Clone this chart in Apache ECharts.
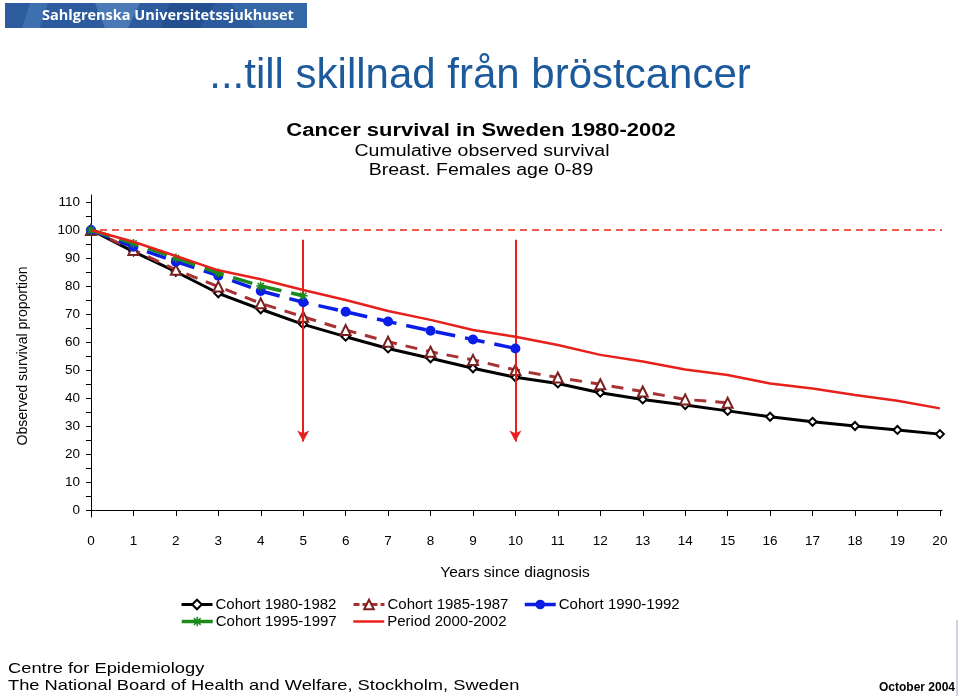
<!DOCTYPE html>
<html>
<head>
<meta charset="utf-8">
<script src="https://cdn.jsdelivr.net/npm/echarts@6/dist/echarts.min.js"></script>
<style>html,body{margin:0;padding:0;background:#fff;}#c{width:960px;height:696px;}</style>
</head>
<body>
<div id="c"></div>
<script>
const years = [0,1,2,3,4,5,6,7,8,9,10,11,12,13,14,15,16,17,18,19,20];
const yTickLabels = [0,10,20,30,40,50,60,70,80,90,100,110];
const cohort8082 = [100,92.3,85.1,77.4,71.7,66.3,61.9,57.7,54.2,50.6,47.4,45.2,41.9,39.5,37.5,35.4,33.3,31.5,30.0,28.6,27.1];
const cohort8587 = [100,92.9,85.8,79.8,73.8,69.0,64.3,60.1,56.5,53.6,50.0,47.3,44.9,42.3,39.5,38.3];
const cohort9092 = [100,94.0,88.7,83.7,78.2,74.2,70.8,67.3,64.0,60.9,57.7];
const cohort9597 = [100,95.2,90.0,84.6,80.0,76.5];
const period0002 = [100,95.8,90.7,85.6,82.4,78.6,75.0,71.1,67.9,64.3,61.9,58.9,55.4,53.0,50.2,48.2,45.2,43.4,41.1,39.0,36.3];
const seriesNames = ['Cohort 1980-1982','Cohort 1985-1987','Cohort 1990-1992','Cohort 1995-1997','Period 2000-2002'];
const arrowYears = [5,10];

function pairs(arr){ return arr.map((v,i)=>[years[i],v]); }
const F = 'Liberation Sans, Arial, sans-serif';
const chart = echarts.init(document.getElementById('c'));
const legendPos = [[180,597],[352,597],[523,597],[180,614],[352,614]];
const legendItemStyles = [null, null, null, {borderColor:'#1d8a1d',borderWidth:1.5}, {opacity:0}];
const legendLineStyles = [
  {color:'#000',width:3,type:'solid'},
  {color:'#a83232',width:3,type:[6,3]},
  {color:'#0a1ee6',width:3.5,type:'solid'},
  {color:'#1d8a1d',width:3.5,type:'solid'},
  {color:'#e8201c',width:2.5,type:'solid'}
];
const SX = 1.22;

const legends = seriesNames.map((n,i)=>{
  const l = {
    data:[n], left:legendPos[i][0], top:legendPos[i][1], itemWidth:31, itemHeight:12, itemGap:0, padding:0,
    selectedMode:false,
    lineStyle: legendLineStyles[i],
    textStyle:{fontFamily:F,fontSize:15,color:'#000',padding:[0,0,0,-2]}
  };
  if (legendItemStyles[i]) l.itemStyle = legendItemStyles[i];
  return l;
});

const option = {
  backgroundColor:'#fff',
  animation:false,
  legend: legends,
  grid:{left:88,right:18,top:195,bottom:179,containLabel:false},
  xAxis:{
    type:'value', min:-0.07, max:20.05,
    name:'Years since diagnosis', nameLocation:'middle', nameGap:48,
    nameTextStyle:{fontFamily:F,fontSize:15.5,color:'#000'},
    axisLine:{show:true,lineStyle:{color:'#000',width:1}},
    axisTick:{show:true,length:6,customValues:years,lineStyle:{color:'#000'}},
    axisLabel:{customValues:years,fontFamily:F,fontSize:13.5,color:'#000',margin:17},
    splitLine:{show:false}
  },
  yAxis:{
    type:'value', min:-2.5, max:112.5,
    name:'Observed survival proportion', nameLocation:'middle', nameGap:58,
    nameTextStyle:{fontFamily:F,fontSize:14,color:'#000'},
    axisLine:{show:true,lineStyle:{color:'#000',width:1}},
    axisTick:{show:true,length:5,customValues:[0,5,10,15,20,25,30,35,40,45,50,55,60,65,70,75,80,85,90,95,100,105,110],lineStyle:{color:'#000'}},
    axisLabel:{customValues:yTickLabels,fontFamily:F,fontSize:13.5,color:'#000',margin:8},
    splitLine:{show:false}
  },
  graphic:[
    {type:'rect',shape:{x:5,y:3,width:302,height:25},style:{fill:'#2c5c9e'},z:1},
    {type:'polygon',shape:{points:[[30,3],[48,3],[40,28],[22,28]]},style:{fill:'#3e6fae'},z:2},
    {type:'polygon',shape:{points:[[95,3],[140,3],[128,28],[105,28]]},style:{fill:'#4a7ab6'},z:2},
    {type:'polygon',shape:{points:[[170,3],[215,3],[200,28],[160,28]]},style:{fill:'#24508f'},z:2},
    {type:'polygon',shape:{points:[[230,3],[307,3],[307,28],[255,28]]},style:{fill:'#3566a6'},z:2},
    {type:'text',x:42,y:16,style:{text:'Sahlgrenska Universitetssjukhuset',fill:'#fff',font:'bold 14.5px "Open Sans", sans-serif',textVerticalAlign:'middle'},z:3},
    {type:'text',x:480,y:76,style:{text:'...till skillnad från bröstcancer',fill:'#1d5a9c',font:'42px '+F,textAlign:'center',textVerticalAlign:'middle'},z:3},
    {type:'text',x:481,y:131,scaleX:SX,style:{text:'Cancer survival in Sweden 1980-2002',fill:'#000',font:'bold 18px '+F,textAlign:'center',textVerticalAlign:'middle'}},
    {type:'text',x:482,y:152,scaleX:SX,style:{text:'Cumulative observed survival',fill:'#000',font:'16px '+F,textAlign:'center',textVerticalAlign:'middle'}},
    {type:'text',x:481,y:171,scaleX:SX,style:{text:'Breast. Females age 0-89',fill:'#000',font:'16px '+F,textAlign:'center',textVerticalAlign:'middle'}},
    {type:'text',x:8,y:669,scaleX:SX,style:{text:'Centre for Epidemiology',fill:'#000',font:'15px '+F,textVerticalAlign:'middle'}},
    {type:'text',x:8,y:686,scaleX:SX,style:{text:'The National Board of Health and Welfare, Stockholm, Sweden',fill:'#000',font:'15px '+F,textVerticalAlign:'middle'}},
    {type:'text',x:955,y:688,style:{text:'October 2004',fill:'#000',font:'bold 12px '+F,textAlign:'right',textVerticalAlign:'middle'}},
    {type:'line',shape:{x1:957,y1:620,x2:957,y2:696},style:{stroke:'#9aa8c0',lineWidth:1}}
  ],
  series:[
    {name:seriesNames[0],type:'line',data:pairs(cohort8082),symbol:'emptyDiamond',symbolSize:8,
      lineStyle:{color:'#000',width:3},itemStyle:{color:'#000',borderWidth:1.2},z:3},
    {name:seriesNames[1],type:'line',data:pairs(cohort8587),symbol:'emptyTriangle',symbolSize:10,
      lineStyle:{color:'#a83232',width:3,type:[12,9]},itemStyle:{color:'#7a2222',borderWidth:1.2},z:4},
    {name:seriesNames[2],type:'line',data:pairs(cohort9092),symbol:'circle',symbolSize:10,
      lineStyle:{color:'#0a1ee6',width:3.5,type:[20,10]},itemStyle:{color:'#0a1ee6'},z:5},
    {name:seriesNames[3],type:'line',data:pairs(cohort9597),symbol:'path://M0,5L10,5M5,0L5,10M1.5,1.5L8.5,8.5M8.5,1.5L1.5,8.5',symbolSize:9,
      lineStyle:{color:'#1d8a1d',width:3.5,type:[20,10]},itemStyle:{color:'#1d8a1d',borderColor:'#1d8a1d',borderWidth:1.5},z:6},
    {name:seriesNames[4],type:'line',data:pairs(period0002),symbol:'none',
      lineStyle:{color:'#e8201c',width:2.5},itemStyle:{color:'#e8201c'},z:7,
      markLine:{silent:true,symbol:['none','none'],label:{show:false},
        lineStyle:{color:'#e8201c',width:1.5,type:[7,5]},
        data:[{yAxis:100}]}
    },
    {name:'arrows',type:'line',data:[],z:8,
      markLine:{silent:true,symbol:['none','arrow'],symbolSize:[9,11],label:{show:false},
        lineStyle:{color:'#e8201c',width:2,type:'solid'},
        data:arrowYears.map(x=>[{coord:[x,96.5]},{coord:[x,24.5]}])}
    }
  ]
};
chart.setOption(option);
</script>
</body>
</html>
